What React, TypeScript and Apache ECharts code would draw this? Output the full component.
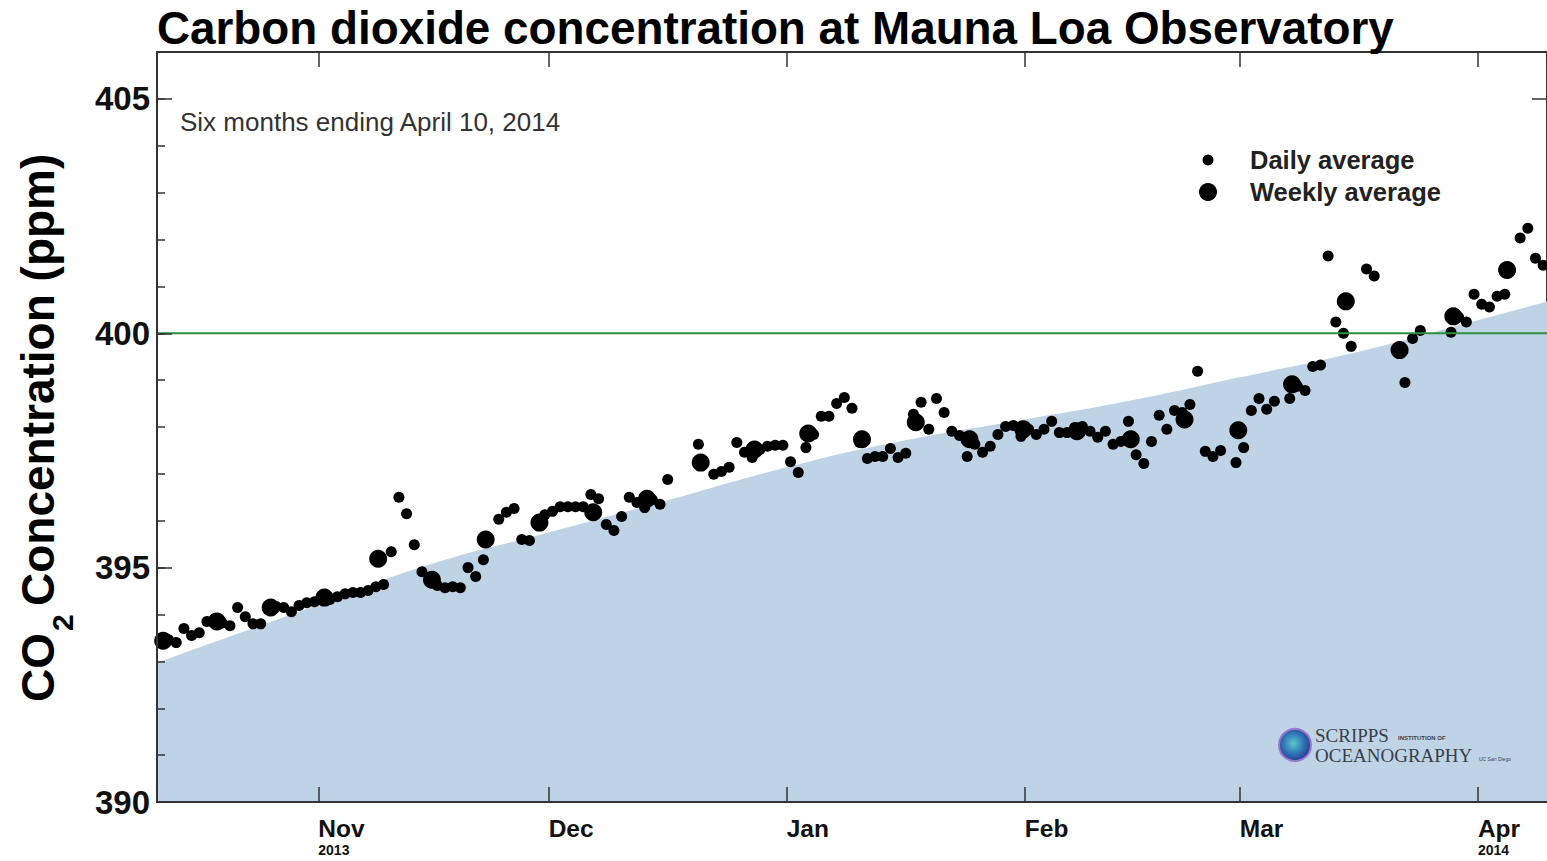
import React, { useEffect, useRef } from 'react';
import * as echarts from 'echarts';

const DAY = 86400000;
const START = Date.UTC(2013, 9, 11);
const END = Date.UTC(2014, 3, 10);
const FONT = '"Liberation Sans", Arial, Helvetica, sans-serif';
const SERIF = '"Liberation Serif", "DejaVu Serif", Times, serif';

// Daily averages, one per day starting Oct 11 2013 (null = no data)
const dailyValues: (number | null)[] = [
  393.40, 393.46, 393.40, 393.70, 393.55, 393.61, 393.85, 393.91, 393.82, 393.76,
  394.15, 393.95, 393.80, 393.80, 394.10, 394.17, 394.15, 394.06, 394.19, 394.25,
  394.27, 394.36, 394.32, 394.38, 394.44, 394.47, 394.47, 394.51, 394.59, 394.64,
  395.34, 396.50, 396.15, 395.49, 394.91, 394.79, 394.62, 394.57, 394.59, 394.57,
  395.00, 394.81, 395.17, null, 396.03, 396.18, 396.26, 395.60, 395.58, 395.92,
  396.13, 396.20, 396.30, 396.30, 396.30, 396.30, 396.56, 396.47, 395.92, 395.79,
  396.09, 396.50, 396.39, 396.28, 396.45, 396.35, 396.88, null, null, null,
  397.63, null, 396.99, 397.05, 397.14, 397.67, 397.46, 397.35, 397.52, 397.59,
  397.61, 397.61, 397.26, 397.03, 397.56, 397.84, 398.23, 398.23, 398.50, 398.63,
  398.40, 397.67, 397.33, 397.37, 397.37, 397.54, 397.35, 397.44, 398.27, 398.53,
  397.95, 398.61, 398.31, 397.91, 397.82, 397.37, 397.63, 397.46, 397.59, 397.84,
  398.01, 398.03, 397.80, 397.95, 397.84, 397.95, 398.12, 397.88, 397.88, 397.99,
  398.01, 397.91, 397.78, 397.91, 397.63, 397.69, 398.12, 397.41, 397.22, 397.69,
  398.25, 397.95, 398.35, 398.31, 398.48, 399.19, 397.48, 397.37, 397.50, null,
  397.24, 397.56, 398.35, 398.61, 398.38, 398.55, null, 398.61, 398.87, 398.78,
  399.29, 399.32, 401.65, 400.24, 400.00, 399.72, null, 401.37, 401.22, null,
  null, null, 398.95, 399.89, 400.06, null, null, null, 400.02, 400.34,
  400.24, 400.83, 400.62, 400.56, 400.79, 400.83, null, 402.03, 402.24, 401.60, 401.45,
];

// Weekly averages, every 7 days starting Oct 11 2013
const weeklyValues: number[] = [
  393.44, 393.85, 394.15, 394.36, 395.19, 394.74, 395.60, 395.96, 396.18, 396.47,
  397.24, 397.52, 397.86, 397.74, 398.10, 397.74, 397.95, 397.91, 397.74, 398.16,
  397.93, 398.91, 400.68, 399.64, 400.36, 401.35,
];

// Trend curve (blue shaded area)
const trendDates: string[] = [
  '2013-10-11', '2013-11-01', '2013-11-15', '2013-12-01', '2013-12-15', '2014-01-01',
  '2014-01-15', '2014-02-01', '2014-02-15', '2014-03-01', '2014-03-15', '2014-04-01', '2014-04-10',
];
const trendValues: number[] = [
  392.97, 394.21, 395.04, 395.75, 396.37, 397.14,
  397.67, 398.16, 398.57, 399.06, 399.55, 400.28, 400.68,
];

const Y_MIN = 390;
const Y_MAX = 406;
const Y_MAJOR = 5;
const Y_MINOR = 1;
const REFERENCE_LEVEL = 400;
const monthNames = ['Jan', 'Feb', 'Mar', 'Apr', 'May', 'Jun', 'Jul', 'Aug', 'Sep', 'Oct', 'Nov', 'Dec'];
const yearLabelMonths: Record<string, string> = { '2013-10': '2013', '2014-3': '2014' };

export default function App() {
  const ref = useRef<HTMLDivElement>(null);

  useEffect(() => {
    document.body.style.margin = '0';
    if (!ref.current) return;
    const chart = echarts.init(ref.current, undefined, { renderer: 'svg' });

    const daily = dailyValues
      .map((v, i) => (v == null ? null : [START + i * DAY + DAY / 2, v]))
      .filter((d) => d !== null);
    const weekly = weeklyValues.map((v, i) => [START + i * 7 * DAY + 0.8 * DAY, v]);
    const trend = trendDates.map((d, i) => [Date.parse(d + 'T00:00:00Z'), trendValues[i]]);

    const axisLineStyle = { color: '#333', width: 2 };
    const tickStyle = { color: '#333', width: 1.5 };

    const option: any = {
      animation: false,
      backgroundColor: '#ffffff',
      useUTC: true,
      grid: { left: 157, top: 52, right: -1, bottom: 59, containLabel: false },
      xAxis: [
        {
          type: 'time', position: 'bottom', min: START, max: END, splitNumber: 6,
          axisLine: { show: true, lineStyle: axisLineStyle },
          axisTick: { show: true, inside: true, length: 15, lineStyle: tickStyle },
          splitLine: { show: false },
          axisLabel: {
            show: true, showMinLabel: false, showMaxLabel: false, align: 'left', margin: 12,
            formatter: (val: number) => {
              const d = new Date(val);
              const key = d.getUTCFullYear() + '-' + d.getUTCMonth();
              const name = monthNames[d.getUTCMonth()];
              return yearLabelMonths[key] ? `{m|${name}}\n{y|${yearLabelMonths[key]}}` : `{m|${name}}`;
            },
            rich: {
              m: { fontSize: 24.5, fontWeight: 'bold', fontFamily: FONT, color: '#111', lineHeight: 28 },
              y: { fontSize: 14, fontWeight: 'bold', fontFamily: FONT, color: '#111', lineHeight: 16 },
            },
          },
          z: 5,
        },
        {
          type: 'time', position: 'top', min: START, max: END, splitNumber: 6,
          axisLine: { show: true, lineStyle: axisLineStyle },
          axisTick: { show: true, inside: true, length: 15, lineStyle: tickStyle },
          splitLine: { show: false },
          axisLabel: { show: false },
          z: 5,
        },
      ],
      yAxis: [
        {
          type: 'value', position: 'left', min: Y_MIN, max: Y_MAX, interval: Y_MAJOR,
          axisLine: { show: true, lineStyle: axisLineStyle },
          axisTick: { show: true, inside: true, length: 15, lineStyle: tickStyle },
          splitLine: { show: false },
          axisLabel: {
            show: true, showMaxLabel: false, margin: 7,
            fontSize: 33, fontWeight: 'bold', fontFamily: FONT, color: '#111',
          },
          z: 5,
        },
        {
          type: 'value', position: 'left', min: Y_MIN, max: Y_MAX, interval: Y_MINOR,
          axisLine: { show: false },
          axisTick: { show: true, inside: true, length: 8, lineStyle: tickStyle },
          splitLine: { show: false },
          axisLabel: { show: false },
          z: 5,
        },
        {
          type: 'value', position: 'right', min: Y_MIN, max: Y_MAX, interval: Y_MAJOR,
          axisLine: { show: true, lineStyle: axisLineStyle },
          axisTick: { show: true, inside: true, length: 15, lineStyle: tickStyle },
          splitLine: { show: false },
          axisLabel: { show: false },
        },
      ],
      series: [
        {
          name: 'Trend', type: 'line', xAxisIndex: 0, yAxisIndex: 0, data: trend,
          smooth: true, showSymbol: false, silent: true,
          lineStyle: { width: 0, opacity: 0 },
          areaStyle: { color: '#bfd3e7', opacity: 1, origin: 'start' },
          z: 1,
        },
        {
          name: 'Daily average', type: 'scatter', xAxisIndex: 0, yAxisIndex: 0, data: daily,
          symbol: 'circle', symbolSize: 11, itemStyle: { color: '#000', opacity: 1 }, z: 3,
        },
        {
          name: 'Weekly average', type: 'scatter', xAxisIndex: 0, yAxisIndex: 0, data: weekly,
          symbol: 'circle', symbolSize: 18, itemStyle: { color: '#000', opacity: 1 }, z: 3,
        },
        {
          name: '400 ppm', type: 'line', xAxisIndex: 0, yAxisIndex: 0,
          data: [[START, REFERENCE_LEVEL], [END, REFERENCE_LEVEL]],
          showSymbol: false, silent: true,
          lineStyle: { color: '#2f8f3c', width: 2 }, z: 4,
        },
      ],
      graphic: [
        {
          type: 'text', x: 157, y: 28, z: 10,
          style: {
            text: 'Carbon dioxide concentration at Mauna Loa Observatory',
            font: `bold 45.8px ${FONT}`, fill: '#000', align: 'left', verticalAlign: 'middle',
          },
        },
        {
          type: 'text', x: 180, y: 122, z: 10,
          style: {
            text: 'Six months ending April 10, 2014',
            font: `26px ${FONT}`, fill: '#333', align: 'left', verticalAlign: 'middle',
          },
        },
        {
          type: 'group', x: 37.5, y: 702, rotation: Math.PI / 2, z: 10,
          children: [
            { type: 'text', x: 0, y: 0, style: { text: 'CO', font: `bold 46px ${FONT}`, fill: '#000', align: 'left', verticalAlign: 'middle' } },
            { type: 'text', x: 71, y: 25, style: { text: '2', font: `bold 30px ${FONT}`, fill: '#000', align: 'left', verticalAlign: 'middle' } },
            { type: 'text', x: 96, y: 0, style: { text: 'Concentration (ppm)', font: `bold 46px ${FONT}`, fill: '#000', align: 'left', verticalAlign: 'middle' } },
          ],
        },
        { type: 'circle', z: 10, shape: { cx: 1208, cy: 160, r: 5.5 }, style: { fill: '#000' } },
        { type: 'circle', z: 10, shape: { cx: 1208, cy: 192, r: 9 }, style: { fill: '#000' } },
        {
          type: 'text', x: 1250, y: 160, z: 10,
          style: { text: 'Daily average', font: `bold 25.5px ${FONT}`, fill: '#222', align: 'left', verticalAlign: 'middle' },
        },
        {
          type: 'text', x: 1250, y: 192, z: 10,
          style: { text: 'Weekly average', font: `bold 25.5px ${FONT}`, fill: '#222', align: 'left', verticalAlign: 'middle' },
        },
        {
          type: 'circle', z: 10, shape: { cx: 1295, cy: 745, r: 16 },
          style: {
            fill: new echarts.graphic.RadialGradient(0.45, 0.45, 0.6, [
              { offset: 0, color: '#5cc6c8' },
              { offset: 0.55, color: '#2f74b8' },
              { offset: 1, color: '#2b2f86' },
            ]),
            stroke: '#9a78d0', lineWidth: 2,
          },
        },
        {
          type: 'text', x: 1315, y: 735.5, z: 10,
          style: { text: 'SCRIPPS', font: `19px ${SERIF}`, fill: '#3a3f4a', align: 'left', verticalAlign: 'middle' },
        },
        {
          type: 'text', x: 1398, y: 738, z: 10,
          style: { text: 'INSTITUTION OF', font: `bold 6px ${FONT}`, fill: '#3a3f4a', align: 'left', verticalAlign: 'middle' },
        },
        {
          type: 'text', x: 1315, y: 755.5, z: 10,
          style: { text: 'OCEANOGRAPHY', font: `19px ${SERIF}`, fill: '#3a3f4a', align: 'left', verticalAlign: 'middle' },
        },
        {
          type: 'text', x: 1479, y: 759, z: 10,
          style: { text: 'UC San Diego', font: `5px ${FONT}`, fill: '#3a3f4a', align: 'left', verticalAlign: 'middle' },
        },
      ],
    };

    chart.setOption(option);
    return () => chart.dispose();
  }, []);

  return <div ref={ref} style={{ width: 1547, height: 861 }} />;
}
